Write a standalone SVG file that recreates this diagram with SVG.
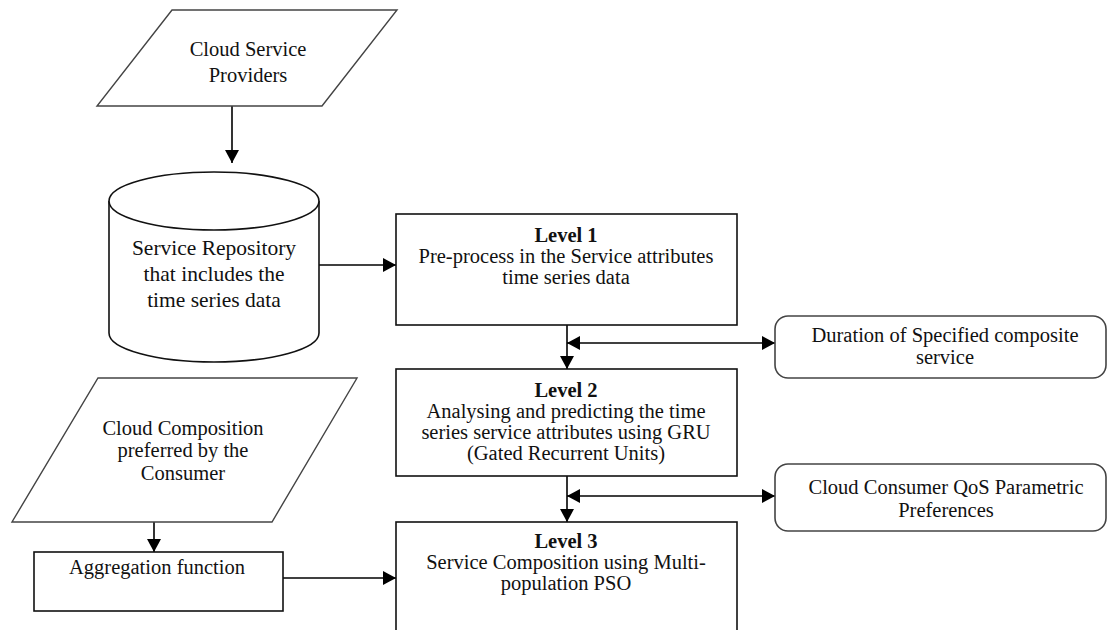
<svg xmlns="http://www.w3.org/2000/svg" width="1107" height="630" viewBox="0 0 1107 630">
<defs>
<marker id="ah" markerUnits="userSpaceOnUse" markerWidth="14" markerHeight="14" viewBox="0 0 14 14" refX="13" refY="7" orient="auto-start-reverse">
<path d="M0,0 L13,7 L0,14 Z" fill="#000"/>
</marker>
</defs>
<style>
text{font-family:"Liberation Serif","Times New Roman",serif;font-size:20.5px;fill:#111;text-anchor:middle}
.b{font-weight:bold}
.big{font-size:21.5px}
.box{fill:#fff;stroke:#111;stroke-width:1.6}
.para{fill:#fff;stroke:#444;stroke-width:1.4}
.rbox{fill:#fff;stroke:#444;stroke-width:1.6}
.con{fill:none;stroke:#000;stroke-width:1.6}
</style>
<rect width="1107" height="630" fill="#fff"/>

<g id="connectors">
<line class="con" x1="232" y1="106" x2="232" y2="163" marker-end="url(#ah)"/>
<line class="con" x1="319" y1="265" x2="396" y2="265" marker-end="url(#ah)"/>
<line class="con" x1="567" y1="325" x2="567" y2="369" marker-end="url(#ah)"/>
<line class="con" x1="567" y1="343" x2="775" y2="343" marker-start="url(#ah)" marker-end="url(#ah)"/>
<line class="con" x1="567" y1="476" x2="567" y2="522" marker-end="url(#ah)"/>
<line class="con" x1="567" y1="496" x2="775" y2="496" marker-start="url(#ah)" marker-end="url(#ah)"/>
<line class="con" x1="154" y1="522" x2="154" y2="552" marker-end="url(#ah)"/>
<line class="con" x1="283" y1="578" x2="396" y2="578" marker-end="url(#ah)"/>
</g>

<g id="cloud-service-providers">
<polygon class="para" points="172,10 397,10 322,106 97,106"/>
<text x="248" y="56">Cloud Service</text>
<text x="248" y="82">Providers</text>
</g>

<g id="service-repository">
<path class="box" d="M109,201 L109,333 A105,29 0 0 0 319,333 L319,201"/>
<ellipse class="box" cx="214" cy="201" rx="105" ry="29"/>
<text class="big" x="214" y="255">Service Repository</text>
<text class="big" x="214" y="281">that includes the</text>
<text class="big" x="214" y="307">time series data</text>
</g>

<g id="level1">
<rect class="box" x="396" y="214" width="341" height="111"/>
<text class="b" x="566" y="242">Level 1</text>
<text x="566" y="263">Pre-process in the Service attributes</text>
<text x="566" y="284">time series data</text>
</g>

<g id="duration">
<rect class="rbox" x="775" y="316" width="331" height="62" rx="13"/>
<text x="945" y="342">Duration of Specified composite</text>
<text x="945" y="364">service</text>
</g>

<g id="level2">
<rect class="box" x="396" y="369" width="341" height="107"/>
<text class="b" x="566" y="397">Level 2</text>
<text x="566" y="418">Analysing and predicting the time</text>
<text x="566" y="439">series service attributes using GRU</text>
<text x="566" y="460">(Gated Recurrent Units)</text>
</g>

<g id="qos-preferences">
<rect class="rbox" x="775" y="464" width="331" height="67" rx="13"/>
<text x="946" y="494">Cloud Consumer QoS Parametric</text>
<text x="946" y="517">Preferences</text>
</g>

<g id="cloud-composition">
<polygon class="para" points="98,378 357,378 272,522 12,522"/>
<text x="183" y="435">Cloud Composition</text>
<text x="183" y="457">preferred by the</text>
<text x="183" y="480">Consumer</text>
</g>

<g id="aggregation">
<rect class="box" x="34" y="552" width="249" height="59"/>
<text x="157" y="574">Aggregation function</text>
</g>

<g id="level3">
<rect class="box" x="396" y="522" width="341" height="130"/>
<text class="b" x="566" y="548">Level 3</text>
<text x="566" y="569">Service Composition using Multi-</text>
<text x="566" y="590">population PSO</text>
</g>
</svg>
